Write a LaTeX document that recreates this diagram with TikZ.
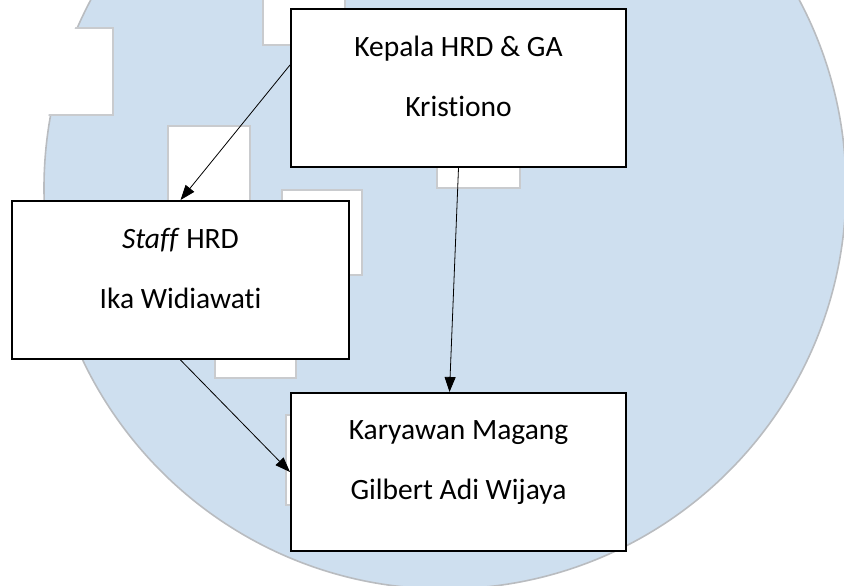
\documentclass[tikz,border=0pt]{standalone}
\usepackage{fontspec}
\setmainfont[Ligatures=NoCommon]{Carlito}
\usetikzlibrary{arrows.meta, positioning}
\definecolor{wmblue}{HTML}{CEDFEF}
\definecolor{wmedge}{HTML}{B9BCC0}
\definecolor{wmrect}{HTML}{C9CBCE}

\begin{document}
\begin{tikzpicture}[
  x=1pt, y=-1pt,
  orgbox/.style={rectangle, draw=black, line width=2pt, fill=white, minimum width=335pt, minimum height=158pt, inner sep=0pt, align=center, font=\fontsize{29.5}{60}\selectfont},
  arrow/.style={-{Triangle[length=15pt,width=11pt]}, line width=0.8pt},
  wmpiece/.style={fill=white, draw=wmrect, line width=1.8pt}
]
  \useasboundingbox (0,0) rectangle (844,586);
  \clip (0,0) rectangle (844,586);

  % Watermark behind the chart
  \fill[wmblue] (445,188) circle[radius=401pt];
  \draw[wmedge, line width=1.6pt] (445,188) circle[radius=401pt];
  \begin{scope}
    \clip (445,188) circle[radius=403pt];
    \draw[wmpiece] (-10,28) rectangle (113,115);
  \end{scope}
  \draw[wmpiece] (263,-10) rectangle (345,45);
  \draw[wmpiece] (168,126) rectangle (250,215);
  \draw[wmpiece] (282,190) rectangle (362,275);
  \draw[wmpiece] (437,150) rectangle (520,188);
  \draw[wmpiece] (215,340) rectangle (296,378);
  \draw[wmpiece] (286,415) rectangle (320,505);

  % Boxes
  \node[orgbox] (kepala) at (458.5,88) {Kepala HRD \& GA\\Kristiono\\[-37pt]\mbox{}};
  \node[orgbox, minimum width=337pt] (staff) at (180.5,280) {\textit{Staff} HRD\\Ika Widiawati\\[-37pt]\mbox{}};
  \node[orgbox, below=224pt of kepala] (magang) {Karyawan Magang\\Gilbert Adi Wijaya\\[-37pt]\mbox{}};

  % Arrows
  \draw[arrow] ([yshift=23pt]kepala.west) -- (staff.north);
  \draw[arrow] (kepala.south) -- ([xshift=-9pt]magang.north);
  \draw[arrow] (staff.south) -- (magang.west);
\end{tikzpicture}
\end{document}
